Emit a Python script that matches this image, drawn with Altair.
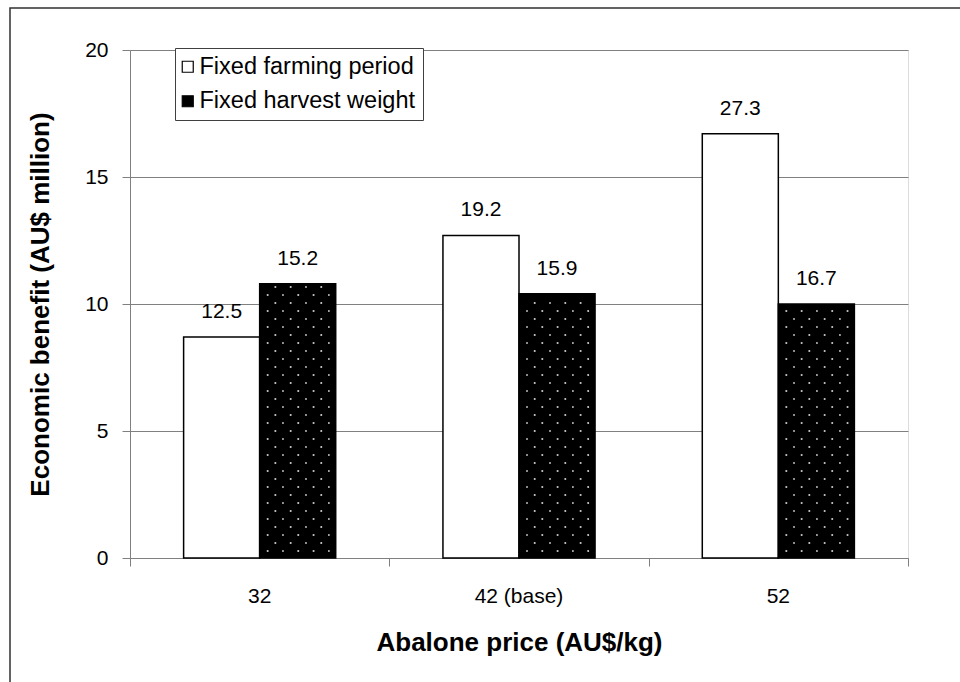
import altair as alt
import pandas as pd

# ---- data ----
prices = ["32", "42 (base)", "52"]
series = ["Fixed farming period", "Fixed harvest weight"]
farming_period = [8.7, 12.7, 16.7]      # bar heights (AU$ million)
harvest_weight = [10.8, 10.4, 10.0]
farming_labels = ["12.5", "19.2", "27.3"]  # printed labels above bars
harvest_labels = ["15.2", "15.9", "16.7"]
y_ticks = [0, 5, 10, 15, 20]

# ---- layout constants ----
W, H = 778, 508
PAD = {"left": 130, "top": 50, "right": 52, "bottom": 124}
FONT = "Liberation Sans"

rows = []
for i, p in enumerate(prices):
    rows.append({"price": p, "series": series[0], "value": farming_period[i], "label": farming_labels[i]})
    rows.append({"price": p, "series": series[1], "value": harvest_weight[i], "label": harvest_labels[i]})
df = pd.DataFrame(rows)

# dotted texture for the dark bars (pattern spacing in pixels converted to data units)
px_x = W / len(prices)
px_y = H / 20.0
dots = []
for i, v in enumerate(harvest_weight):
    k = 0
    ypx = 7.0
    while ypx < v * px_y - 2:
        offs = [8, 23.3, 38.6, 53.9, 69.2] if k % 2 == 0 else [15.7, 31.0, 46.3, 61.6]
        for o in offs:
            dots.append({"xq": i + 0.5 + o / px_x, "value": ypx / px_y})
        ypx += 8.0
        k += 1
dots_df = pd.DataFrame(dots)

x_band = alt.X("price:N", sort=prices,
               scale=alt.Scale(paddingInner=0, paddingOuter=0),
               axis=alt.Axis(orient="bottom", ticks=False, tickSize=0, domain=False,
                             labelPadding=27, labelFontSize=21, labelColor="black",
                             labelAngle=0, title=None, labelFont=FONT))
x_band_noaxis = alt.X("price:N", sort=prices,
                      scale=alt.Scale(paddingInner=0, paddingOuter=0), axis=None)
x_off = alt.XOffset("series:N", sort=series,
                    scale=alt.Scale(paddingInner=0, paddingOuter=0.705))

y_enc = alt.Y("value:Q", scale=alt.Scale(domain=[0, 20], nice=False, zero=True),
              axis=alt.Axis(values=y_ticks, grid=True, gridColor="#808080", gridWidth=1,
                            domainColor="#808080", tickColor="#808080", tickSize=8,
                            labelPadding=14, labelFontSize=21, labelColor="black",
                            labelFont=FONT,
                            title="Economic benefit (AU$ million)", titleFontSize=26,
                            titleFontWeight="bold", titleColor="black", titleFont=FONT,
                            titlePadding=31))

bars = alt.Chart(df).mark_bar(stroke="black", strokeWidth=1.5).encode(
    x=x_band,
    xOffset=x_off,
    y=y_enc,
    fill=alt.Fill("series:N", sort=series,
                  scale=alt.Scale(domain=series, range=["white", "black"]),
                  legend=alt.Legend(title=None, orient="none", legendX=45, legendY=-2,
                                    fillColor="white", strokeColor="#404040",
                                    padding=7, symbolType="square", symbolSize=121,
                                    symbolOffset=-6,
                                    symbolStrokeColor="black", symbolStrokeWidth=1.2,
                                    labelFontSize=23.5, labelFont=FONT, labelColor="black",
                                    labelOffset=0, rowPadding=9.5, labelLimit=400)),
)

texts = alt.Chart(df).mark_text(baseline="alphabetic", dy=-19, fontSize=21,
                                font=FONT, color="black").encode(
    x=x_band_noaxis,
    xOffset=x_off,
    y=alt.Y("value:Q", scale=alt.Scale(domain=[0, 20], nice=False)),
    text="label:N",
)

dot_layer = alt.Chart(dots_df).mark_square(size=3, color="#d8d8d8", opacity=1).encode(
    x=alt.X("xq:Q", scale=alt.Scale(domain=[0, 3], nice=False, zero=False),
            axis=alt.Axis(orient="bottom", values=[0, 1, 2, 3], labels=False, grid=False,
                          tickSize=8, tickColor="#808080", domainColor="#808080",
                          title="Abalone price (AU$/kg)", titleFontSize=26,
                          titleFontWeight="bold", titleColor="black", titleFont=FONT,
                          titlePadding=63)),
    y=alt.Y("value:Q", scale=alt.Scale(domain=[0, 20], nice=False)),
)

frame = alt.Chart(pd.DataFrame({"k": [0]})).mark_rect(
    fill=None, stroke="#303030", strokeWidth=1.5
).encode(
    x=alt.value(-120), x2=alt.value(900), y=alt.value(-42), y2=alt.value(700)
)

chart = alt.layer(bars, texts, dot_layer, frame).resolve_scale(
    x="independent"
).properties(
    width=W, height=H,
    autosize=alt.AutoSizeParams(type="none"),
    padding=PAD,
    background="white",
).configure_view(stroke=None).configure(font=FONT)

chart.save("out.html", embed_options={"renderer": "svg", "actions": False})
